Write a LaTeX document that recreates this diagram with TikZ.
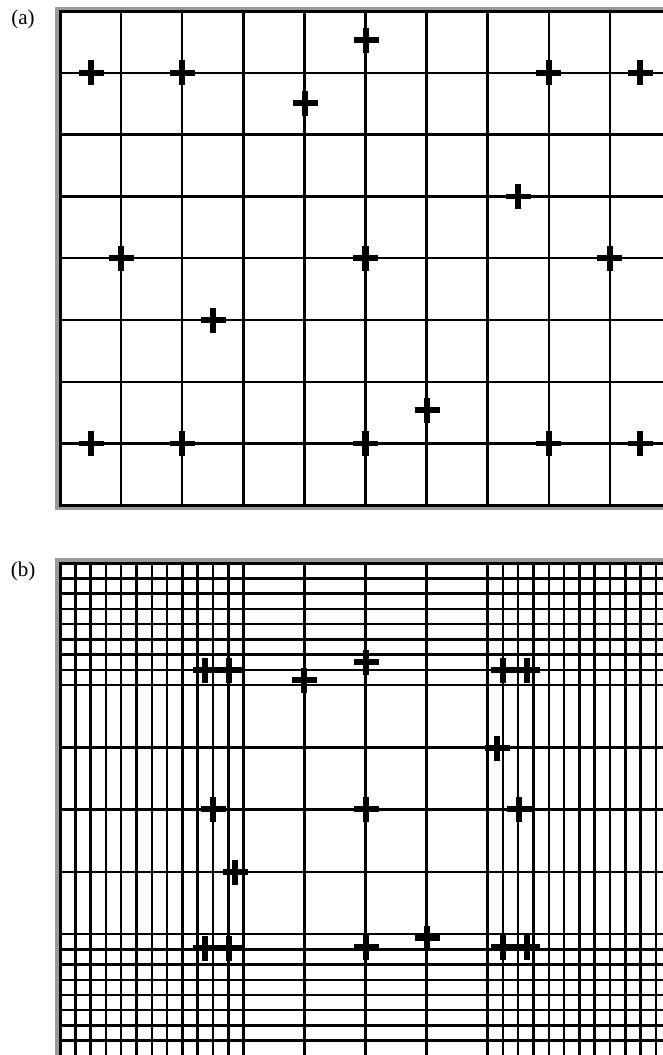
\documentclass[tikz,border=0pt]{standalone}
\usepackage{fontspec}
\setmainfont{Liberation Serif}
\begin{document}
\begin{tikzpicture}[x=1pt,y=-1pt,
  gridline/.style={line width=2.5pt,black},
  frameline/.style={line width=3pt,black},
  stipple/.style={fill=black!40},
  lbl/.style={inner sep=0pt,font=\fontsize{21}{25}\selectfont},
  plusmark/.pic={\fill (-12.5,-2.8) rectangle (12.5,2.8); \fill (-3.2,-12.5) rectangle (3.2,12.5);}]
\useasboundingbox (0,0) rectangle (663,1055);
\clip (0,0) rectangle (663,1055);
% labels
\node[lbl] (la) at (23,19) {(a)};
\node[lbl] (lb) at (23,571) {(b)};
% ---------------- panel (a)
\fill[stipple] (55,7) rectangle (663,11);
\fill[stipple] (55,7) rectangle (60,509.5);
\fill[stipple] (55,505.4) rectangle (663,509.5);
\foreach \k in {1,...,9}
  \draw[gridline] ({60+61.1*\k},11) -- ({60+61.1*\k},505.4);
\foreach \k in {1,...,7}
  \draw[gridline] (60,{11+61.8*\k}) -- (663,{11+61.8*\k});
\draw[frameline] (663,11) -- (60,11) -- (60,505.4) -- (663,505.4);
% crosses (a)
\foreach \px/\py in {91/72.8,182.2/72.8,548.8/72.8,640/72.8,366/40,305/103,
  518/196.4,121.1/258.2,365.5/258.2,609.9/258.2,213/320,427/410,
  91/443.6,182.2/443.6,365.5/443.6,548.8/443.6,640/443.6}
  \pic at (\px,\py) {plusmark};
% ---------------- panel (b)
\fill[stipple] (55,558) rectangle (663,563);
\fill[stipple] (55,558) rectangle (60,1055);
\foreach \k in {1,...,12}
  \draw[gridline] ({60+15.3*\k},563) -- ({60+15.3*\k},1060);
\foreach \xx in {304.6,365.6,426.6}
  \draw[gridline] (\xx,563) -- (\xx,1060);
\foreach \k in {0,...,11}
  \draw[gridline] ({487.6+15.3*\k},563) -- ({487.6+15.3*\k},1060);
\foreach \k in {1,...,8}
  \draw[gridline] (60,{563+15.25*\k}) -- (663,{563+15.25*\k});
\foreach \yy in {747.3,809.6,871.9}
  \draw[gridline] (60,\yy) -- (663,\yy);
\foreach \k in {0,...,7}
  \draw[gridline] (60,{934.2+15.2*\k}) -- (663,{934.2+15.2*\k});
\draw[frameline] (663,563) -- (60,563) -- (60,1060);
% crosses (b)
\foreach \px/\py in {205/670,229/670,304/680,366/662,503/670,527/670,
  497/748,213/809,366/809,519/809,235/872,
  205/948,229/948,366/947,427/938,503/947,527/947}
  \pic at (\px,\py) {plusmark};
\end{tikzpicture}
\end{document}
